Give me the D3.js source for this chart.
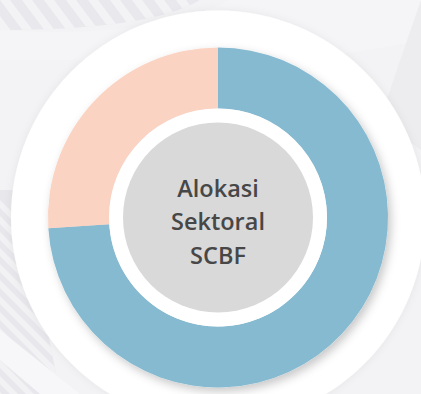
<!DOCTYPE html>
<html>
<head>
<meta charset="utf-8">
<script src="https://cdn.jsdelivr.net/npm/d3@7"></script>
<style>
  html, body { margin: 0; padding: 0; background: #f3f3f5; }
  svg { display: block; }
</style>
</head>
<body>
<svg id="chart" width="421" height="394"></svg>
<script>
// Sector allocation shares (percent)
const categories = ["Sektor A", "Sektor B"];
const values = [74, 26];
const colors = ["#85bad1", "#fbd3c2"];
const titleLines = ["Alokasi", "Sektoral", "SCBF"];

const width = 421, height = 394;
const cx = 218, cy = 217.5;
const outerR = 170, innerR = 109, coreR = 95, plateR = 207;

const svg = d3.select("#chart");
const defs = svg.append("defs");

// soft drop shadow under the ring
const shadow = defs.append("filter").attr("id", "shadow")
  .attr("x", "-20%").attr("y", "-20%").attr("width", "140%").attr("height", "140%");
shadow.append("feDropShadow")
  .attr("dx", 3).attr("dy", 4).attr("stdDeviation", 5)
  .attr("flood-color", "#000").attr("flood-opacity", 0.22);

const plateShadow = defs.append("filter").attr("id", "plateShadow")
  .attr("x", "-20%").attr("y", "-20%").attr("width", "140%").attr("height", "140%");
plateShadow.append("feDropShadow")
  .attr("dx", 0).attr("dy", 0).attr("stdDeviation", 4)
  .attr("flood-color", "#000").attr("flood-opacity", 0.06);

// decorative background bands
const bg = svg.append("g");
bg.append("rect").attr("width", width).attr("height", height).attr("fill", "#f3f3f5");
const bandClip = defs.append("clipPath").attr("id", "bandClip");
bandClip.append("path").attr("d", "M0,0 L200,0 Q150,30 0,30 Z");
const stripes = bg.append("g").attr("clip-path", "url(#bandClip)");
stripes.append("rect").attr("width", 220).attr("height", 40).attr("fill", "#e9e9ed");
d3.range(-2, 12).forEach(i => {
  stripes.append("path")
    .attr("d", `M${i * 22},0 L${i * 22 + 10},0 L${i * 22 + 40},40 L${i * 22 + 30},40 Z`)
    .attr("fill", "#f3f3f6");
});
bg.append("path").attr("d", "M0,30 Q150,40 230,0 L421,0 L421,40 Q330,60 240,60 L0,60 Z")
  .attr("fill", "#f5f5f7");
const leftClip = defs.append("clipPath").attr("id", "leftClip");
leftClip.append("path").attr("d", "M0,190 L20,190 L60,394 L0,394 Z");
const lstr = bg.append("g").attr("clip-path", "url(#leftClip)");
lstr.append("rect").attr("x", 0).attr("y", 190).attr("width", 60).attr("height", 204).attr("fill", "#e8e8ec");
d3.range(0, 14).forEach(i => {
  lstr.append("path")
    .attr("d", `M0,${200 + i * 16} L0,${208 + i * 16} L60,${268 + i * 16} L60,${260 + i * 16} Z`)
    .attr("fill", "#f2f2f5");
});
bg.append("path").attr("d", "M0,330 L80,394 L40,394 L0,360 Z").attr("fill", "#f7f7f9");
bg.append("path").attr("d", "M380,120 Q400,60 421,0 L421,150 Z").attr("fill", "#ededf0");

// white plate
svg.append("circle").attr("cx", cx).attr("cy", cy).attr("r", plateR)
  .attr("fill", "#ffffff").attr("filter", "url(#plateShadow)");

// donut: first segment runs clockwise from 12 o'clock
const pie = d3.pie().sort(null).startAngle(0).endAngle(2 * Math.PI);
const arcs = pie(values);
const arc = d3.arc().innerRadius(innerR).outerRadius(outerR);

const ring = svg.append("g").attr("transform", `translate(${cx},${cy})`);
ring.append("g").attr("filter", "url(#shadow)")
  .selectAll("path").data(arcs).join("path")
  .attr("d", arc)
  .attr("fill", (d, i) => colors[i]);

// inner white ring and grey core
ring.append("circle").attr("r", innerR).attr("fill", "#ffffff");
ring.append("circle").attr("r", coreR).attr("fill", "#d9d9d9");

// title
const title = ring.append("text")
  .attr("text-anchor", "middle")
  .attr("font-family", "'Open Sans', 'Noto Sans', sans-serif")
  .attr("font-weight", 600)
  .attr("font-size", 23.5)
  .attr("fill", "#474747");
titleLines.forEach((t, i) => {
  title.append("tspan").attr("x", 0).attr("y", -21 + i * 33.5).text(t);
});
</script>
</body>
</html>
